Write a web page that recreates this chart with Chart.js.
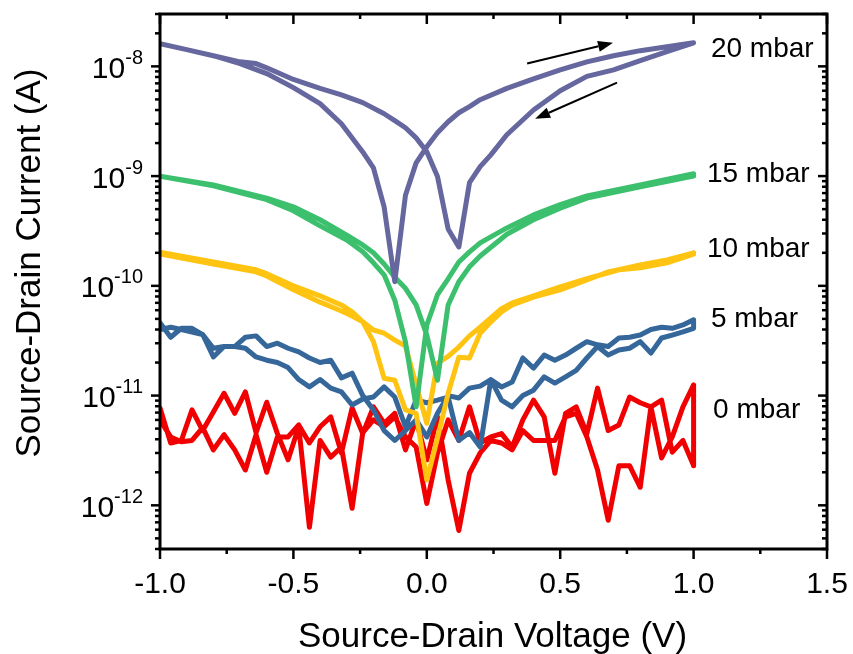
<!DOCTYPE html>
<html>
<head>
<meta charset="utf-8">
<script src="https://cdn.jsdelivr.net/npm/chart.js@4.4.1/dist/chart.umd.min.js"></script>
<style>
html,body{margin:0;padding:0;background:#fff;}
canvas{display:block;}
</style>
</head>
<body>
<canvas id="c" width="853" height="654"></canvas>
<script>
// ---------------- DATA ----------------
// voltage grid (V) used by the noisy 0 and 5 mbar sweeps
const vGrid = [-1.00,-0.96,-0.92,-0.88,-0.84,-0.80,-0.76,-0.72,-0.68,-0.64,-0.60,-0.56,-0.52,-0.48,-0.44,-0.40,-0.36,-0.32,-0.28,-0.24,-0.20,-0.16,-0.12,-0.08,-0.04,0.00,0.04,0.08,0.12,0.16,0.20,0.24,0.28,0.32,0.36,0.40,0.44,0.48,0.52,0.56,0.60,0.64,0.68,0.72,0.76,0.80,0.84,0.88,0.92,0.96,1.00];

// 0 mbar (A)
const i0fwd = [7.7e-12,3.7e-12,3.9e-12,7.4e-12,4.8e-12,7.1e-12,1.05e-11,6.9e-12,1.08e-11,4.6e-12,8.7e-12,4.5e-12,2.6e-12,5.2e-12,6.3e-13,3.9e-12,2.75e-12,3.4e-12,9.4e-13,4.6e-12,6.0e-12,5.2e-12,6.4e-12,4.2e-12,3.4e-12,1.04e-12,3.0e-12,6.0e-12,3.9e-12,7.9e-12,3.7e-12,4.2e-12,4.5e-12,3.4e-12,6.0e-12,9.1e-12,6.4e-12,1.96e-12,6.9e-12,7.9e-12,4.5e-12,1.17e-11,4.8e-12,5.4e-12,9.7e-12,8.6e-12,7.9e-12,2.7e-12,4.2e-12,7.9e-12,1.25e-11];
const i0bwd = [6.0e-12,4.2e-12,3.8e-12,3.9e-12,5.1e-12,3.2e-12,4.4e-12,3.2e-12,2.1e-12,4.4e-12,2.0e-12,4.2e-12,4.2e-12,5.4e-12,3.7e-12,5.2e-12,6.4e-12,3.0e-12,7.7e-12,4.5e-12,7.9e-12,5.6e-12,6.9e-12,3.2e-12,6.0e-12,2.6e-12,6.4e-12,1.7e-12,5.9e-13,1.96e-12,3.0e-12,3.9e-12,3.7e-12,3.2e-12,4.8e-12,3.9e-12,3.9e-12,3.9e-12,6.4e-12,6.9e-12,4.2e-12,2.1e-12,7.3e-13,2.3e-12,2.3e-12,1.46e-12,7.9e-12,9.1e-12,3.05e-12,3.9e-12,2.3e-12];

// 5 mbar (A)
const i5fwd = [4.6e-11,3.4e-11,4.1e-11,4.1e-11,3.6e-11,2.25e-11,2.8e-11,2.8e-11,2.7e-11,2.25e-11,2.1e-11,2.0e-11,1.8e-11,1.4e-11,1.2e-11,1.4e-11,1.17e-11,1.08e-11,8.2e-12,9.3e-12,9.7e-12,1.2e-11,9.7e-12,5.2e-12,9.1e-12,8.6e-12,9.1e-12,9.7e-12,3.9e-12,4.6e-12,3.4e-12,1.4e-11,9.1e-12,7.9e-12,1.0e-11,1.12e-11,1.48e-11,1.3e-11,1.48e-11,1.7e-11,2.2e-11,2.8e-11,2.34e-11,2.6e-11,2.7e-11,3.1e-11,2.44e-11,3.35e-11,3.56e-11,3.8e-11,4.1e-11];
const i5bwd = [4.0e-11,4.2e-11,4.0e-11,3.8e-11,3.6e-11,2.7e-11,2.8e-11,2.8e-11,3.4e-11,3.5e-11,2.8e-11,3.0e-11,2.7e-11,2.5e-11,2.2e-11,2.0e-11,2.1e-11,1.45e-11,1.6e-11,1.0e-11,7.4e-12,4.8e-12,3.9e-12,4.8e-12,6.0e-12,4.2e-12,6.9e-12,1.0e-11,9.5e-12,1.17e-11,1.22e-11,1.4e-11,1.2e-11,1.33e-11,2.2e-11,1.78e-11,2.34e-11,2.1e-11,2.34e-11,2.7e-11,3.1e-11,2.9e-11,2.8e-11,3.35e-11,3.4e-11,3.56e-11,4.0e-11,4.2e-11,4.1e-11,4.4e-11,4.9e-11];

// 10 mbar
const v10fwd = [-1.0,-0.8,-0.64,-0.6,-0.5,-0.4,-0.32,-0.28,-0.24,-0.2,-0.16,-0.12,-0.08,-0.04,0,0.04,0.08,0.12,0.16,0.2,0.24,0.28,0.32,0.4,0.5,0.6,0.68,0.8,0.9,1.0];
const i10fwd = [1.95e-10,1.58e-10,1.34e-10,1.23e-10,9.2e-11,7.1e-11,5.9e-11,5.3e-11,4.7e-11,3.1e-11,1.44e-11,1.38e-11,7.4e-12,6.9e-12,1.7e-12,4.1e-12,1.05e-11,2.24e-11,2.2e-11,3.7e-11,4.7e-11,5.8e-11,6.7e-11,7.9e-11,9.2e-11,1.13e-10,1.34e-10,1.55e-10,1.72e-10,2.0e-10];
const v10bwd = [-1.0,-0.8,-0.64,-0.6,-0.5,-0.4,-0.32,-0.28,-0.24,-0.2,-0.16,-0.12,-0.08,-0.04,0,0.04,0.08,0.12,0.16,0.2,0.28,0.32,0.4,0.5,0.6,0.72,0.8,0.9,1.0];
const i10bwd = [2.03e-10,1.65e-10,1.4e-10,1.29e-10,1.0e-10,8.1e-11,6.7e-11,5.8e-11,4.7e-11,3.96e-11,3.7e-11,3.2e-11,2.83e-11,1.25e-11,5.6e-12,1.98e-11,2.28e-11,2.77e-11,3.5e-11,4.2e-11,6.2e-11,7.0e-11,8.1e-11,9.8e-11,1.16e-10,1.4e-10,1.46e-10,1.62e-10,1.95e-10];

// 15 mbar
const v15fwd = [-1.0,-0.8,-0.6,-0.5,-0.4,-0.3,-0.24,-0.2,-0.16,-0.12,-0.08,-0.04,0,0.04,0.08,0.12,0.16,0.2,0.3,0.4,0.5,0.6,0.8,1.0];
const i15fwd = [1.0e-9,8.15e-10,6.1e-10,4.83e-10,3.52e-10,2.62e-10,2.04e-10,1.62e-10,1.26e-10,7.4e-11,3.08e-11,7.9e-12,4.4e-11,8.3e-11,1.16e-10,1.65e-10,2.04e-10,2.46e-10,3.37e-10,4.43e-10,5.5e-10,6.6e-10,8.3e-10,1.05e-9];
const v15bwd = [-1.0,-0.8,-0.6,-0.5,-0.4,-0.3,-0.24,-0.2,-0.16,-0.12,-0.08,-0.04,0,0.04,0.08,0.12,0.16,0.2,0.3,0.4,0.5,0.6,0.8,1.0];
const i15bwd = [1.0e-9,8.3e-10,6.3e-10,5.25e-10,4.0e-10,2.9e-10,2.36e-10,2.0e-10,1.58e-10,1.2e-10,9.5e-11,6.7e-11,3.56e-11,1.38e-11,6.7e-11,1.09e-10,1.49e-10,1.87e-10,2.95e-10,4.0e-10,5.1e-10,6.3e-10,8.0e-10,1.0e-9];

// 20 mbar
const v20fwd = [-1.0,-0.9,-0.8,-0.7,-0.6,-0.5,-0.4,-0.32,-0.24,-0.2,-0.16,-0.12,-0.08,-0.04,0,0.04,0.08,0.12,0.16,0.2,0.3,0.4,0.5,0.6,0.7,0.8,0.9,1.0];
const i20fwd = [1.61e-8,1.42e-8,1.25e-8,1.06e-8,8.6e-9,6.4e-9,4.57e-9,3.0e-9,1.66e-9,1.19e-9,5.25e-10,1.09e-10,6.7e-10,1.32e-9,1.85e-9,2.48e-9,3.13e-9,3.78e-9,4.3e-9,4.97e-9,6.3e-9,7.7e-9,9.3e-9,1.10e-8,1.25e-8,1.39e-8,1.51e-8,1.64e-8];
const v20bwd = [-1.0,-0.9,-0.8,-0.7,-0.64,-0.6,-0.5,-0.4,-0.32,-0.24,-0.16,-0.12,-0.08,-0.04,0,0.04,0.08,0.12,0.16,0.2,0.24,0.3,0.4,0.5,0.6,0.7,0.8,0.9,1.0];
const i20bwd = [1.61e-8,1.42e-8,1.25e-8,1.10e-8,1.06e-8,9.7e-9,7.6e-9,6.3e-9,5.5e-9,4.67e-9,3.7e-9,3.2e-9,2.76e-9,2.23e-9,1.67e-9,9.9e-10,3.3e-10,2.26e-10,8.7e-10,1.22e-9,1.56e-9,2.38e-9,4.0e-9,6.0e-9,8.1e-9,9.3e-9,1.13e-8,1.36e-8,1.64e-8];

// ticks
const xTickValues = [-1.0,-0.5,0.0,0.5,1.0,1.5];
const xTickLabels = ['-1.0','-0.5','0.0','0.5','1.0','1.5'];
const xMinorValues = [-0.75,-0.25,0.25,0.75,1.25];
const yTickExponents = [-12,-11,-10,-9,-8];

// annotations (text in data coordinates)
const labelTexts = ['20 mbar','15 mbar','10 mbar','5 mbar','0 mbar'];
const labelX = [1.065,1.05,1.05,1.065,1.073];
const labelY = [1.22e-8,8.9e-10,1.84e-10,4.22e-11,6.2e-12];
// sweep-direction arrows, start and end points in data coordinates
const arrowFrom = [[0.376,1.06e-8],[0.713,7.1e-9]];
const arrowTo   = [[0.698,1.64e-8],[0.406,3.33e-9]];

// ---------------- BUILD ----------------
function loop(vf, ifw, vb, ibw){
  const pts = vf.map((v,k)=>({x:v,y:ifw[k]}));
  const back = vb.map((v,k)=>({x:v,y:ibw[k]})).reverse();
  return pts.concat(back);
}
const FONT = '"Liberation Sans", Arial, Helvetica, sans-serif';
const lineStyle = {borderWidth:5, pointRadius:0, tension:0, fill:false, borderJoinStyle:'round', borderCapStyle:'round', showLine:true};

const datasets = [
  Object.assign({label:'20 mbar', data:loop(v20fwd,i20fwd,v20bwd,i20bwd), borderColor:'#65679E'}, lineStyle),
  Object.assign({label:'15 mbar', data:loop(v15fwd,i15fwd,v15bwd,i15bwd), borderColor:'#3CC06E'}, lineStyle),
  Object.assign({label:'10 mbar', data:loop(v10fwd,i10fwd,v10bwd,i10bwd), borderColor:'#FFC312'}, lineStyle),
  Object.assign({label:'5 mbar', data:loop(vGrid,i5fwd,vGrid,i5bwd), borderColor:'#35679A'}, lineStyle),
  Object.assign({label:'0 mbar', data:loop(vGrid,i0fwd,vGrid,i0bwd), borderColor:'#F00000'}, lineStyle)
];

const framePlugin = {
  id:'frame',
  afterDraw(chart){
    const ctx = chart.ctx, a = chart.chartArea, xs = chart.scales.x, ys = chart.scales.y;
    ctx.save();
    ctx.strokeStyle = '#000';
    ctx.fillStyle = '#000';
    const seg = (x0,y0,x1,y1)=>{ctx.beginPath();ctx.moveTo(x0,y0);ctx.lineTo(x1,y1);ctx.stroke();};

    // arrows
    ctx.lineWidth = 2;
    arrowFrom.forEach((f,k)=>{
      const t = arrowTo[k];
      const x0 = xs.getPixelForValue(f[0]), y0 = ys.getPixelForValue(f[1]);
      const x1 = xs.getPixelForValue(t[0]), y1 = ys.getPixelForValue(t[1]);
      const ang = Math.atan2(y1-y0, x1-x0);
      const L = 15, W = 5.5;
      const bx = x1 - L*Math.cos(ang), by = y1 - L*Math.sin(ang);
      seg(x0,y0,bx,by);
      ctx.beginPath();
      ctx.moveTo(x1,y1);
      ctx.lineTo(bx + W*Math.sin(ang), by - W*Math.cos(ang));
      ctx.lineTo(bx - W*Math.sin(ang), by + W*Math.cos(ang));
      ctx.closePath();
      ctx.fill();
    });

    // frame
    ctx.lineWidth = 3;
    ctx.strokeRect(a.left, a.top, a.right-a.left, a.bottom-a.top);

    // x ticks
    ctx.lineWidth = 2.5;
    xTickValues.forEach(v=>{
      const px = xs.getPixelForValue(v);
      seg(px, a.bottom, px, a.bottom+10);
      seg(px, a.top, px, a.top+10);
    });
    xMinorValues.forEach(v=>{
      const px = xs.getPixelForValue(v);
      seg(px, a.bottom, px, a.bottom+5);
      seg(px, a.top, px, a.top+5);
    });
    // y ticks
    const yMin = ys.min, yMax = ys.max;
    for (let d = -13; d <= -8; d++){
      for (let m = 1; m <= 9; m++){
        const val = m * Math.pow(10, d);
        if (val < yMin*0.999 || val > yMax*1.001) continue;
        const py = ys.getPixelForValue(val);
        const len = (m === 1) ? 9 : 5;
        seg(a.left, py, a.left-len, py);
        seg(a.right, py, a.right-len, py);
      }
    }

    // x tick labels
    ctx.font = '30px ' + FONT;
    ctx.textAlign = 'center';
    ctx.textBaseline = 'alphabetic';
    xTickValues.forEach((v,k)=>{
      ctx.fillText(xTickLabels[k], xs.getPixelForValue(v), 593);
    });

    // y tick labels 10^n
    yTickExponents.forEach(e=>{
      const py = ys.getPixelForValue(Math.pow(10,e));
      const sup = String(e);
      ctx.font = '20px ' + FONT;
      const w2 = ctx.measureText(sup).width;
      ctx.font = '30px ' + FONT;
      const w1 = ctx.measureText('10').width;
      const right = 143;
      ctx.textAlign = 'left';
      ctx.fillText('10', right - w2 - w1, py + 11.5);
      ctx.font = '20px ' + FONT;
      ctx.fillText(sup, right - w2, py - 2.5);
    });

    // annotations
    ctx.font = '28px ' + FONT;
    ctx.textAlign = 'left';
    labelTexts.forEach((t,k)=>{
      ctx.fillText(t, xs.getPixelForValue(labelX[k]), ys.getPixelForValue(labelY[k]));
    });

    // axis titles
    ctx.font = '35px ' + FONT;
    ctx.textAlign = 'center';
    ctx.fillText('Source-Drain Voltage (V)', (a.left+a.right)/2 - 1, 647);
    ctx.save();
    ctx.translate(40, 263);
    ctx.rotate(-Math.PI/2);
    ctx.fillText('Source-Drain Current (A)', 0, 0);
    ctx.restore();

    ctx.restore();
  }
};

new Chart(document.getElementById('c'), {
  type:'scatter',
  data:{datasets},
  options:{
    responsive:false,
    devicePixelRatio:1,
    animation:false,
    layout:{padding:{left:160, top:14, right:26, bottom:105}},
    plugins:{legend:{display:false}, tooltip:{enabled:false}},
    scales:{
      x:{type:'linear', min:-1.0, max:1.5, display:false},
      y:{type:'logarithmic', min:4e-13, max:3e-8, display:false}
    }
  },
  plugins:[framePlugin]
});
</script>
</body>
</html>
